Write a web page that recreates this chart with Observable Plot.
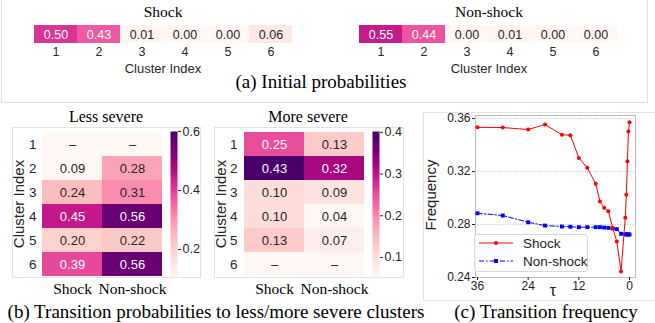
<!DOCTYPE html>
<html><head><meta charset="utf-8">
<script src="https://cdn.jsdelivr.net/npm/d3@7"></script>
<script src="https://cdn.jsdelivr.net/npm/@observablehq/plot@0.6"></script>
<style>
body{margin:0;background:#fff;}
#fig{position:relative;width:655px;height:323px;overflow:hidden;background:#fff;}
</style></head><body><div id="fig"></div>
<script>
// ---------- data ----------
const clusters = [1, 2, 3, 4, 5, 6];
const groups = ["Shock", "Non-shock"];
const initShock = [0.50, 0.43, 0.01, 0.00, 0.00, 0.06];
const initNonShock = [0.55, 0.44, 0.00, 0.01, 0.00, 0.00];
const lessShock = [null, 0.09, 0.24, 0.45, 0.20, 0.39];
const lessNonShock = [null, 0.28, 0.31, 0.56, 0.22, 0.56];
const moreShock = [0.25, 0.43, 0.10, 0.10, 0.13, null];
const moreNonShock = [0.13, 0.32, 0.09, 0.04, 0.07, null];
const tau = [36, 30, 24, 20, 16, 14, 12, 10, 8, 7, 6, 5, 4, 3, 2, 1, 0.75, 0.5, 0.25, 0];
const freqShock = [0.3534, 0.3532, 0.3517, 0.3555, 0.3477, 0.3474, 0.3303, 0.3228, 0.3107, 0.2974, 0.2926, 0.2900, 0.2775, 0.2672, 0.2445, 0.2851, 0.3024, 0.3278, 0.3502, 0.3572];
const freqNonShock = [0.2885, 0.2868, 0.2817, 0.2792, 0.2785, 0.2783, 0.2780, 0.2780, 0.2780, 0.2780, 0.2777, 0.2775, 0.2770, 0.2765, 0.2730, 0.2727, 0.2725, 0.2725, 0.2725, 0.2725];
const freqTicksY = [0.24, 0.28, 0.32, 0.36];
const freqTicksX = [36, 24, 12, 0];

// ---------- helpers ----------
const SANS = '"Liberation Sans", Arial, sans-serif';
const SERIF = '"Liberation Serif", "Times New Roman", serif';
const DARK = "#262626";
const fig = document.getElementById("fig");
function put(node, left, top) {
  node.style.position = "absolute"; node.style.left = left + "px"; node.style.top = top + "px";
  fig.appendChild(node); return node;
}
function label(txt, x, y, {size = 15, family = SERIF, rotate = 0, color = "#000"} = {}) {
  const d = document.createElement("div");
  d.textContent = txt;
  d.style.cssText = `position:absolute;left:${x}px;top:${y}px;transform:translate(-50%,-50%) rotate(${rotate}deg);font-size:${size}px;font-family:${family};color:${color};white-space:nowrap;line-height:1;font-weight:normal;`;
  fig.appendChild(d);
}
function box(x1, y1, x2, y2, color = "#e2e2e2") {
  const d = document.createElement("div");
  d.style.cssText = `position:absolute;left:${x1}px;top:${y1}px;width:${x2 - x1}px;height:${y2 - y1}px;border:1px solid ${color};box-sizing:border-box;`;
  fig.appendChild(d);
}
const fmt = d => d.v == null ? "–" : d.v.toFixed(2);

// ---------- frames ----------
box(1, -2, 648, 103);
box(12, 127, 201, 278);
box(214, 127, 404, 278);
box(423, 112, 660, 301);

// ---------- (a) initial probabilities ----------
function initHeat(vals) {
  const data = clusters.map((c, i) => ({c, v: vals[i]}));
  const dom = [0, 0.8];
  const dark = d => (d.v - dom[0]) / (dom[1] - dom[0]) > 0.5;
  return Plot.plot({
    width: 330, height: 45, marginLeft: 32, marginRight: 36, marginTop: 5, marginBottom: 22,
    style: {background: "transparent", fontFamily: SANS, fontSize: "12px", color: DARK},
    x: {domain: clusters, padding: 0},
    color: {type: "linear", scheme: "RdPu", domain: dom, clamp: true},
    marks: [
      Plot.cell(data, {x: "c", fill: "v", inset: 0}),
      Plot.text(data, {x: "c", text: fmt, fill: "white", fontSize: 12.5, filter: dark}),
      Plot.text(data, {x: "c", text: fmt, fill: DARK, fontSize: 12.5, filter: d => !dark(d)}),
      Plot.axisX({tickSize: 0, tickPadding: 4, fontSize: 12.5, label: null})
    ]
  });
}
put(initHeat(initShock), 0, 20);
put(initHeat(initNonShock), 325, 20);
label("Shock", 163, 12, {size: 15.5});
label("Non-shock", 489, 12, {size: 15.5});
label("Cluster Index", 163, 68, {size: 13, family: SANS, color: DARK});
label("Cluster Index", 489, 68, {size: 13, family: SANS, color: DARK});
label("(a) Initial probabilities", 321, 80.5, {size: 19});

// ---------- (b) transition heatmaps ----------
function transHeat(sh, ns, dom, width, ml, mr) {
  const data = [];
  clusters.forEach((c, i) => {
    data.push({g: "Shock", c, v: sh[i]});
    data.push({g: "Non-shock", c, v: ns[i]});
  });
  const has = d => d.v != null;
  const dark = d => has(d) && (d.v - dom[0]) / (dom[1] - dom[0]) > 0.5;
  return Plot.plot({
    width, height: 190, marginLeft: ml, marginRight: mr, marginTop: 21, marginBottom: 23,
    style: {background: "transparent", fontFamily: SANS, fontSize: "13px", color: DARK},
    x: {domain: groups, padding: 0, axis: null},
    y: {domain: clusters, padding: 0},
    color: {type: "linear", scheme: "RdPu", domain: dom, clamp: true},
    marks: [
      Plot.cell(data.filter(has), {x: "g", y: "c", fill: "v", inset: 0}),
      Plot.cell(data.filter(d => !has(d)), {x: "g", y: "c", fill: "#fff7f3", inset: 0}),
      Plot.text(data, {x: "g", y: "c", text: fmt, fill: "white", fontSize: 13, filter: dark}),
      Plot.text(data, {x: "g", y: "c", text: fmt, fill: DARK, fontSize: 13, filter: d => !dark(d)}),
      Plot.axisY({tickSize: 0, tickPadding: 6, fontSize: 13.5, label: null}),
      Plot.text(groups, {x: d => d, text: d => d, frameAnchor: "bottom", lineAnchor: "top", dy: 5,
        fontFamily: SERIF, fontSize: 15.5, fill: "#000"})
    ]
  });
}
function colorbar(dom, ticks, ml, mr) {
  return Plot.plot({
    width: 50, height: 190, marginLeft: ml, marginRight: mr, marginTop: 21, marginBottom: 23,
    style: {background: "transparent", fontFamily: SANS, fontSize: "12.5px", color: DARK},
    x: {domain: [0, 1], axis: null},
    y: {domain: dom},
    color: {type: "linear", scheme: "RdPu", domain: dom, clamp: true},
    marks: [
      Plot.raster({x1: 0, x2: 1, y1: dom[0], y2: dom[1], width: 1, height: 256, fill: (x, y) => y, imageRendering: "auto"}),
      Plot.axisY({anchor: "right", ticks, tickFormat: ".1f", tickSize: 3, tickPadding: 2, fontSize: 12.5, label: null})
    ]
  });
}
const lessDom = [0.105, 0.6];
const moreDom = [0.052, 0.402];
put(transHeat(lessShock, lessNonShock, lessDom, 200, 42, 38), 0, 110);
put(colorbar(lessDom, [0.2, 0.4, 0.6], 5, 38), 165, 110);
put(transHeat(moreShock, moreNonShock, moreDom, 195, 33, 41), 210, 110);
put(colorbar(moreDom, [0.1, 0.2, 0.3, 0.4], 7, 36), 365, 110);
label("Less severe", 106, 117, {size: 16});
label("More severe", 308, 117, {size: 16});
label("Cluster Index", 18, 204, {size: 15, family: SANS, rotate: -90, color: DARK});
label("Cluster Index", 220, 204, {size: 15, family: SANS, rotate: -90, color: DARK});
label("(b) Transition probabilities to less/more severe clusters", 216, 311, {size: 19});

// ---------- (c) transition frequency ----------
const shockData = tau.map((t, i) => ({t, f: freqShock[i]}));
const nonShockData = tau.map((t, i) => ({t, f: freqNonShock[i]}));
const freqPlot = Plot.plot({
  width: 232, height: 195, marginLeft: 52, marginRight: 20, marginTop: 10, marginBottom: 23,
  style: {background: "transparent", fontFamily: SANS, fontSize: "12px", color: "#222"},
  x: {domain: [36.47, -1.42]},
  y: {domain: [0.24, 0.3623]},
  marks: [
    Plot.gridY([0.28, 0.32, 0.36], {stroke: "#c4c4c4", strokeOpacity: 1, strokeDasharray: "1,1.5"}),
    Plot.frame({stroke: "#bdbdbd"}),
    Plot.axisY({ticks: freqTicksY, tickFormat: ".2f", tickSize: 3, tickPadding: 2, fontSize: 12, label: null}),
    Plot.axisX({ticks: freqTicksX, tickSize: 3, tickPadding: 1, fontSize: 12, label: null}),
    Plot.line(nonShockData, {x: "t", y: "f", stroke: "#0000ff", strokeWidth: 1, strokeDasharray: "5,2,1.5,2"}),
    Plot.dot(nonShockData, {x: "t", y: "f", symbol: "square", r: 2.2, fill: "#0000ff"}),
    Plot.line(shockData, {x: "t", y: "f", stroke: "#ff0000", strokeWidth: 1}),
    Plot.dot(shockData, {x: "t", y: "f", r: 2, fill: "#ff0000"})
  ]
});
put(freqPlot, 423, 105);
label("Frequency", 430, 195, {size: 15, family: SANS, rotate: -90, color: "#222"});
label("τ", 553, 291, {size: 16, family: SANS, color: "#222"});
label("(c) Transition frequency", 546, 311, {size: 19});

// legend
const leg = document.createElement("div");
leg.style.cssText = "position:absolute;left:474px;top:234px;width:114px;height:38px;border:1px solid #d8d8d8;border-radius:3px;background:rgba(255,255,255,0.85);box-sizing:border-box;";
leg.innerHTML = `<svg width="114" height="38" style="position:absolute;left:-1px;top:-1px">
<line x1="5" x2="39" y1="9" y2="9" stroke="#ff0000" stroke-width="1"/><circle cx="22" cy="9" r="2" fill="#ff0000"/>
<line x1="5" x2="39" y1="27" y2="27" stroke="#0000ff" stroke-width="1" stroke-dasharray="5,2,1.5,2"/><rect x="20" y="25" width="4" height="4" fill="#0000ff"/>
<text x="49" y="13.5" font-size="13.5" font-family='${SANS}' fill="#222">Shock</text>
<text x="49" y="31.5" font-size="13.5" font-family='${SANS}' fill="#222">Non-shock</text></svg>`;
fig.appendChild(leg);
</script></body></html>
